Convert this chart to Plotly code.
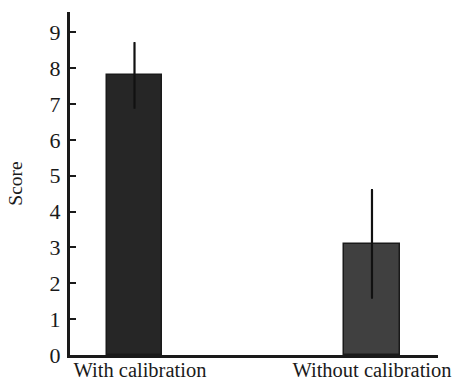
import plotly.graph_objects as go

categories = ["With calibration", "Without calibration"]
scores = [7.8, 3.1]
errors = [0.9, 1.5]
bar_colors = ["#262626", "#404040"]
y_ticks = [0, 1, 2, 3, 4, 5, 6, 7, 8, 9]

xpos = list(range(len(categories)))

fig = go.Figure()
fig.add_trace(go.Bar(
    x=xpos, y=scores, width=0.232,
    marker=dict(color=bar_colors, line=dict(color="#1a1a1a", width=1.5)),
    error_y=dict(type="data", array=errors, visible=True, color="#111111",
                 thickness=2.2, width=1),
    showlegend=False,
))

font = dict(family="Liberation Serif, Times New Roman, serif", size=20, color="#1a1a1a")

fig.update_layout(
    width=456, height=380,
    margin=dict(l=70, r=18, t=12, b=25),
    paper_bgcolor="white", plot_bgcolor="white",
    font=font,
    bargap=0,
)
fig.update_xaxes(
    range=[-0.2716, 1.278],
    tickmode="array", tickvals=[0.023, 1], ticktext=categories,
    showline=True, linecolor="#1a1a1a", linewidth=3,
    showgrid=False, zeroline=False, ticks="",
    tickfont=dict(size=20.5),
    ticklabelstandoff=-6,
    automargin=False,
)
fig.update_yaxes(
    range=[0, 9.565],
    tickmode="array", tickvals=y_ticks,
    showline=True, linecolor="#1a1a1a", linewidth=3,
    showgrid=False, zeroline=False,
    ticks="inside", ticklen=6, tickwidth=1.5, tickcolor="#1a1a1a",
    title=dict(text="Score", font=dict(size=19.5), standoff=22),
    tickfont=dict(size=22),
    ticklabelstandoff=2,
    automargin=False,
)

fig.write_html(
    "out.html",
    config={"displayModeBar": False},
    post_script="document.body.style.margin='0';document.body.style.overflow='hidden';",
)
